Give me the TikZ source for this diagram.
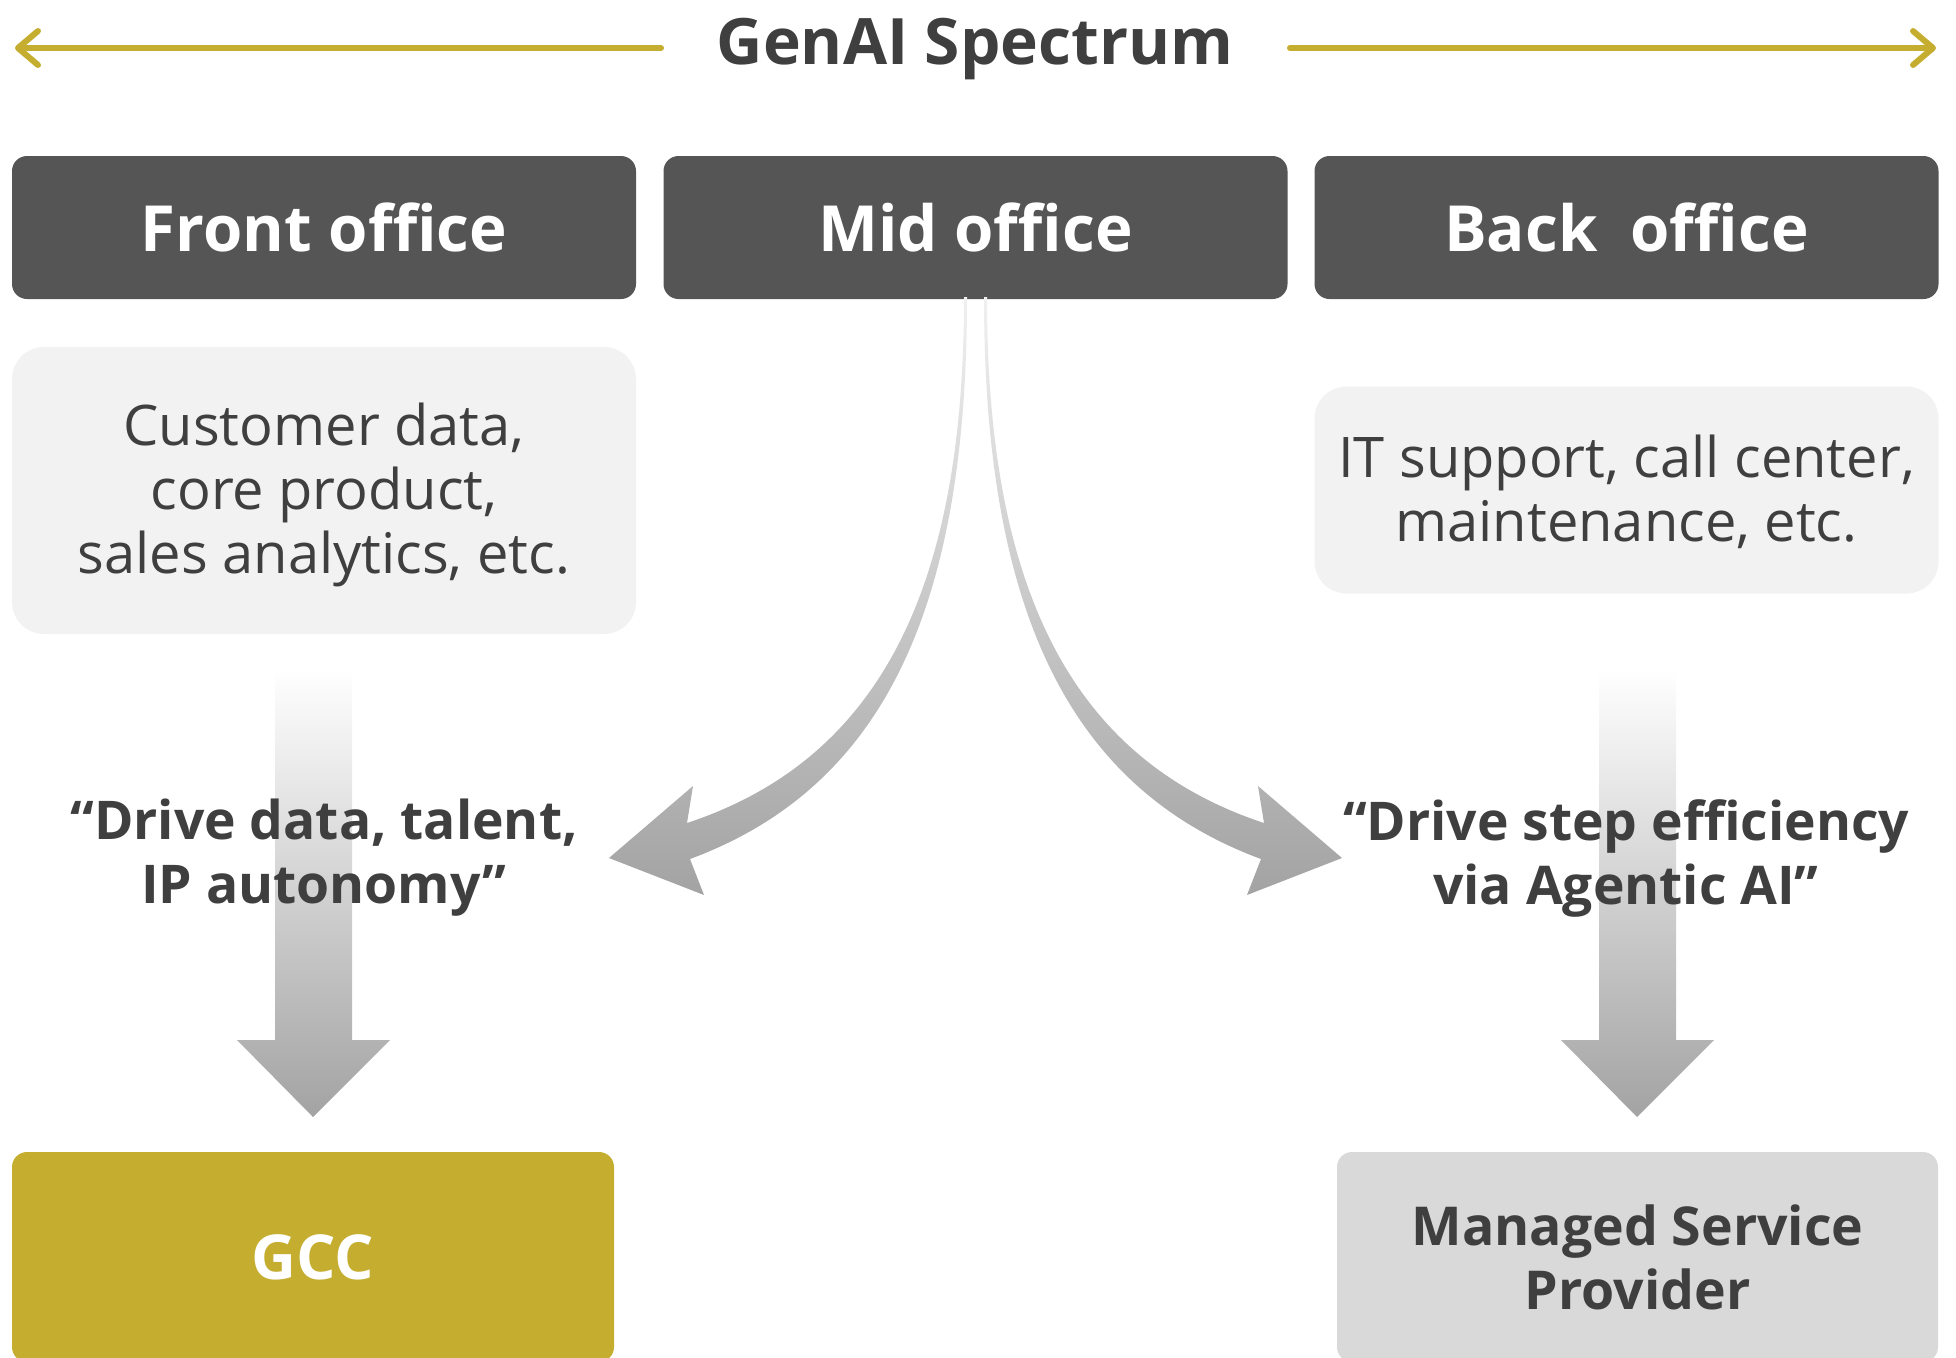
\documentclass[tikz,border=0pt]{standalone}
\usepackage{fontspec}
\setmainfont{Open Sans}
\usetikzlibrary{arrows.meta}
\definecolor{gold}{HTML}{C5AD2F}
\definecolor{hdrgray}{HTML}{555555}
\definecolor{lightbox}{HTML}{F2F2F2}
\definecolor{txtdark}{HTML}{3F3F3F}
\definecolor{mspgray}{HTML}{D9D9D9}
\definecolor{arrtop}{HTML}{F0F0F0}
\definecolor{arrmid}{HTML}{D9D9D9}
\definecolor{arrbot}{HTML}{A3A3A3}
\definecolor{varrmid}{HTML}{E6E6E6}
\tikzset{
  hdr/.style={fill=hdrgray, rounded corners=7.5pt, minimum width=312pt, minimum height=71.5pt,
    inner sep=0pt, text=white, font=\bfseries\fontsize{31.8}{36}\selectfont},
  infobox/.style={fill=lightbox, rounded corners=16pt, minimum width=312pt, inner sep=0pt},
  infotext/.style={text=txtdark, align=center, font=\fontsize{28}{32}\selectfont},
  quotetext/.style={text=txtdark, align=center, font=\bfseries\fontsize{26.7}{32}\selectfont},
  endbox/.style={rounded corners=7.5pt, minimum height=105pt, inner sep=0pt, align=center},
  spectrum/.style={draw=gold, line width=3pt, line cap=round,
    -{Straight Barb[length=10pt,width=17pt,line width=3pt,round]}},
}
\begin{document}
\begin{tikzpicture}[x=0.5pt,y=-0.5pt]
\useasboundingbox (0,0) rectangle (1956,1357);
\clip (0,0) rectangle (1956,1357);

% title and spectrum arrows
\node[text=txtdark, font=\bfseries\fontsize{32}{36}\selectfont] (title) at (975,49) {GenAI Spectrum};
\coordinate (lstart) at (661,48);
\coordinate (ltip) at (15,48);
\coordinate (rstart) at (1290,48);
\coordinate (rtip) at (1936,48);
\draw[spectrum] (lstart) -- (ltip);
\draw[spectrum] (rstart) -- (rtip);

% headers
\node[hdr] (front) at (324,227.5) {Front office};
\node[hdr] (mid) at (975.5,227.5) {Mid office};
\node[hdr] (back) at (1626.5,227.5) {Back\ \ office};

% info boxes
\node[infobox, minimum height=143.5pt] (frontbox) at (324,490.5) {};
\node[infotext] (fronttext) at (324,495) {Customer data,\\core product,\\sales analytics, etc.};
\node[infobox, minimum height=103.5pt] (backbox) at (1626.5,490) {};
\node[infotext] (backtext) at (1626.5,492) {IT support, call center,\\maintenance, etc.};

% curved arrows from mid office
\shade[top color=arrtop, middle color=arrmid, bottom color=arrbot]
  (964,297) .. controls (964,577) and (887,757) .. (687,823)
  -- (693,786) -- (609,858) -- (704,895) -- (690,859)
  .. controls (890,785) and (967,597) .. (967,297) -- cycle;
\shade[top color=arrtop, middle color=arrmid, bottom color=arrbot]
  (987,297) .. controls (987,577) and (1064,757) .. (1264,823)
  -- (1258,786) -- (1342,858) -- (1247,895) -- (1261,859)
  .. controls (1061,785) and (984,597) .. (984,297) -- cycle;

% vertical arrows
\shade[top color=white, middle color=varrmid, bottom color=arrbot]
  (275,668) -- (352,668) -- (352,1040) -- (390,1040) -- (313,1117) -- (237,1040) -- (275,1040) -- cycle;
\shade[top color=white, middle color=varrmid, bottom color=arrbot]
  (1599,668) -- (1676,668) -- (1676,1040) -- (1714,1040) -- (1637,1117) -- (1561,1040) -- (1599,1040) -- cycle;

% quotes
\node[quotetext] (q1) at (324,858) {“Drive data, talent,\\IP autonomy”};
\node[quotetext] (q2) at (1626,858) {“Drive step efficiency\\via Agentic AI”};

% end boxes
\node[endbox, fill=gold, minimum width=301pt, text=white, font=\bfseries\fontsize{31}{36}\selectfont] (gcc) at (313,1257) {GCC};
\node[endbox, fill=mspgray, minimum width=300.5pt, text=txtdark, font=\bfseries\fontsize{26.8}{32}\selectfont] (msp) at (1637.5,1257) {Managed Service\\Provider};
\end{tikzpicture}
\end{document}
